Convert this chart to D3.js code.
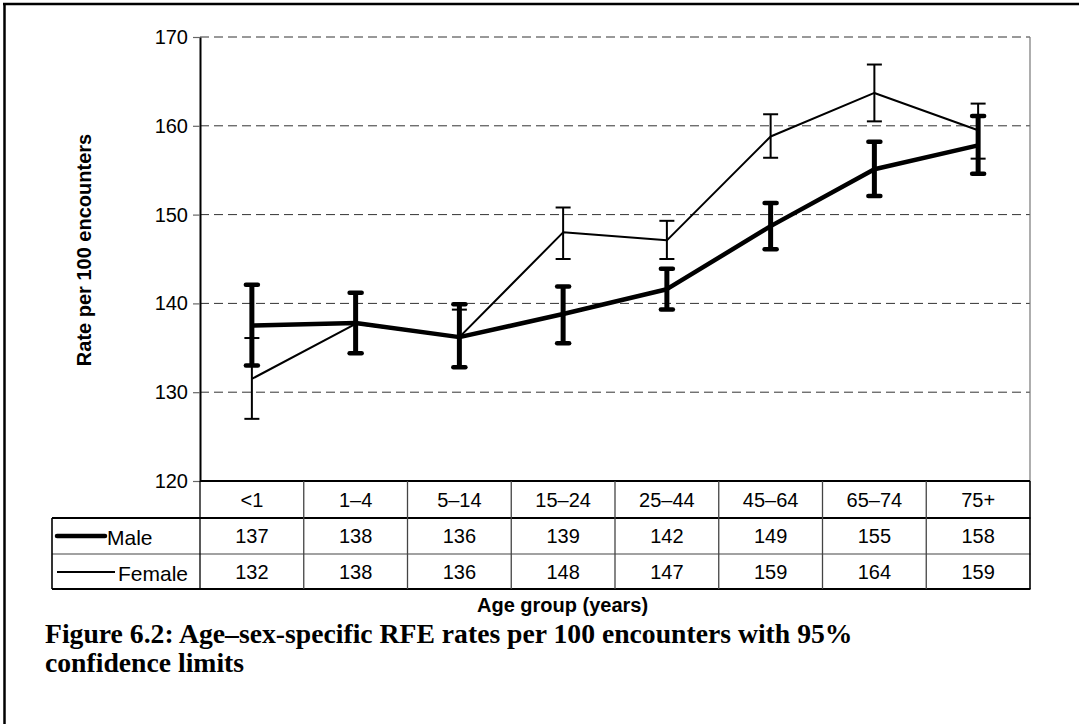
<!DOCTYPE html>
<html><head><meta charset="utf-8">
<script src="https://cdn.jsdelivr.net/npm/d3@7"></script>
<style>body{margin:0;background:#fff} svg{display:block}</style>
</head><body><svg id="c" width="1079" height="724"></svg>
<script>
const categories = ["<1","1–4","5–14","15–24","25–44","45–64","65–74","75+"];
const maleRate   = [137.5,137.8,136.2,138.8,141.6,148.7,155.1,157.8];
const maleLow    = [133.0,134.4,132.8,135.5,139.3,146.1,152.1,154.6];
const maleHigh   = [142.1,141.2,139.9,141.9,143.9,151.3,158.2,161.1];
const femaleRate = [131.5,137.7,136.2,148.0,147.1,158.8,163.7,159.5];
const femaleLow  = [127.0,134.4,132.8,145.0,145.0,156.4,160.5,156.3];
const femaleHigh = [136.1,141.2,139.3,150.8,149.3,161.3,166.9,162.5];
const maleTable   = [137,138,136,139,142,149,155,158];
const femaleTable = [132,138,136,148,147,159,164,159];
const yTicks = [120,130,140,150,160,170];
const seriesNames = ["Male","Female"];
const yTitle = "Rate per 100 encounters";
const xTitle = "Age group (years)";
const captionLines = ["Figure 6.2: Age–sex-specific RFE rates per 100 encounters with 95%","confidence limits"];

const svg = d3.select("#c");
const L = 200, R = 1030, T = 37, B = 481;
const x = d3.scaleBand().domain(categories).range([L, R]);
const y = d3.scaleLinear().domain([120,170]).range([B, T]);
const cx = c => x(c) + x.bandwidth()/2;
const font = "Arial, 'Liberation Sans', sans-serif";

// outer frame (left & top)
svg.append("line").attr("x1",4.5).attr("x2",4.5).attr("y1",3).attr("y2",724).attr("stroke","#000").attr("stroke-width",2.5);
svg.append("line").attr("x1",3).attr("x2",1079).attr("y1",4).attr("y2",4).attr("stroke","#000").attr("stroke-width",2.5);

// gridlines
svg.append("g").selectAll("line").data(yTicks.filter(t=>t>120)).join("line")
  .attr("x1",L).attr("x2",R).attr("y1",d=>y(d)).attr("y2",d=>y(d))
  .attr("stroke","#333").attr("stroke-width",1).attr("stroke-dasharray","9,5");
// plot right border
svg.append("line").attr("x1",R).attr("x2",R).attr("y1",T).attr("y2",B).attr("stroke","#777").attr("stroke-width",1.2);

// y axis
const ya = svg.append("g").attr("transform",`translate(${L},0)`)
  .call(d3.axisLeft(y).tickValues(yTicks).tickSize(7).tickPadding(5).tickSizeOuter(0));
ya.select(".domain").attr("stroke","#000").attr("stroke-width",2);
ya.selectAll(".tick line").attr("stroke","#666").attr("stroke-width",1.2);
ya.selectAll(".tick text").attr("font-family",font).attr("font-size",20).attr("fill","#000");

// table
const tg = svg.append("g");
tg.append("line").attr("x1",L).attr("x2",R).attr("y1",B).attr("y2",B).attr("stroke","#000").attr("stroke-width",2.2);
[518,554,589].forEach((yy,i)=>{
  tg.append("line").attr("x1",52).attr("x2",R+0.5).attr("y1",yy).attr("y2",yy).attr("stroke",i===1?"#444":"#000").attr("stroke-width",i===1?1.2:1.8);
});
const bounds = categories.map(c=>x(c)).concat([R]);
tg.selectAll("line.v").data(bounds).join("line").attr("class","v")
  .attr("x1",d=>d).attr("x2",d=>d).attr("y1",B).attr("y2",589)
  .attr("stroke",d=>d===R||d===L?"#000":"#444").attr("stroke-width",d=>d===R?1.6:1.3);
tg.append("line").attr("x1",52).attr("x2",52).attr("y1",518).attr("y2",589).attr("stroke","#000").attr("stroke-width",1.6);
tg.selectAll("text.h").data(categories).join("text").attr("class","h")
  .attr("x",d=>cx(d)).attr("y",500).attr("text-anchor","middle").attr("dominant-baseline","central")
  .attr("font-family",font).attr("font-size",20).text(d=>d);
[[maleTable,536],[femaleTable,572]].forEach(([arr,yy])=>{
  tg.selectAll(null).data(arr).join("text")
    .attr("x",(d,i)=>cx(categories[i])).attr("y",yy).attr("text-anchor","middle").attr("dominant-baseline","central")
    .attr("font-family",font).attr("font-size",20).text(d=>d);
});
// legend keys
tg.append("line").attr("x1",57).attr("x2",105).attr("y1",536).attr("y2",536).attr("stroke","#000").attr("stroke-width",4.5).attr("stroke-linecap","round");
tg.append("text").attr("x",107).attr("y",537).attr("dominant-baseline","central").attr("font-family",font).attr("font-size",21).text(seriesNames[0]);
tg.append("line").attr("x1",57).attr("x2",115).attr("y1",572).attr("y2",572).attr("stroke","#000").attr("stroke-width",2);
tg.append("text").attr("x",118).attr("y",573).attr("dominant-baseline","central").attr("font-family",font).attr("font-size",21).text(seriesNames[1]);

// series
function drawSeries(rate, lo, hi, lw, bw, capHalf, capW, round){
  const g = svg.append("g");
  g.append("path").datum(rate).attr("fill","none").attr("stroke","#000").attr("stroke-width",lw)
    .attr("stroke-linejoin","round")
    .attr("d", d3.line().x((d,i)=>cx(categories[i])).y(d=>y(d)));
  categories.forEach((c,i)=>{
    const xx = cx(c);
    g.append("line").attr("x1",xx).attr("x2",xx).attr("y1",y(lo[i])).attr("y2",y(hi[i])).attr("stroke","#000").attr("stroke-width",bw);
    [lo[i],hi[i]].forEach(v=>{
      g.append("line").attr("x1",xx-capHalf).attr("x2",xx+capHalf).attr("y1",y(v)).attr("y2",y(v))
        .attr("stroke","#000").attr("stroke-width",capW).attr("stroke-linecap",round?"round":"butt");
    });
  });
}
drawSeries(maleRate, maleLow, maleHigh, 4.5, 5, 6, 4.5, true);
drawSeries(femaleRate, femaleLow, femaleHigh, 2, 2, 7.5, 2, false);

// axis titles
svg.append("text").attr("transform",`translate(91,250) rotate(-90)`).attr("text-anchor","middle")
  .attr("font-family",font).attr("font-weight","bold").attr("font-size",20).text(yTitle);
svg.append("text").attr("x",477).attr("y",612).attr("text-anchor","start")
  .attr("font-family",font).attr("font-weight","bold").attr("font-size",20).text(xTitle);

// caption
const serif = "'Liberation Serif', 'Times New Roman', serif";
const cap = svg.append("g");
const c1 = cap.append("text").attr("x",45).attr("y",643).attr("font-family",serif).attr("font-weight","bold").attr("font-size",22).text(captionLines[0]);
const w = c1.node().getComputedTextLength();
const fs = 22*808/w;
c1.attr("font-size",fs);
cap.append("text").attr("x",45).attr("y",672).attr("font-family",serif).attr("font-weight","bold").attr("font-size",fs).text(captionLines[1]);
</script></body></html>
